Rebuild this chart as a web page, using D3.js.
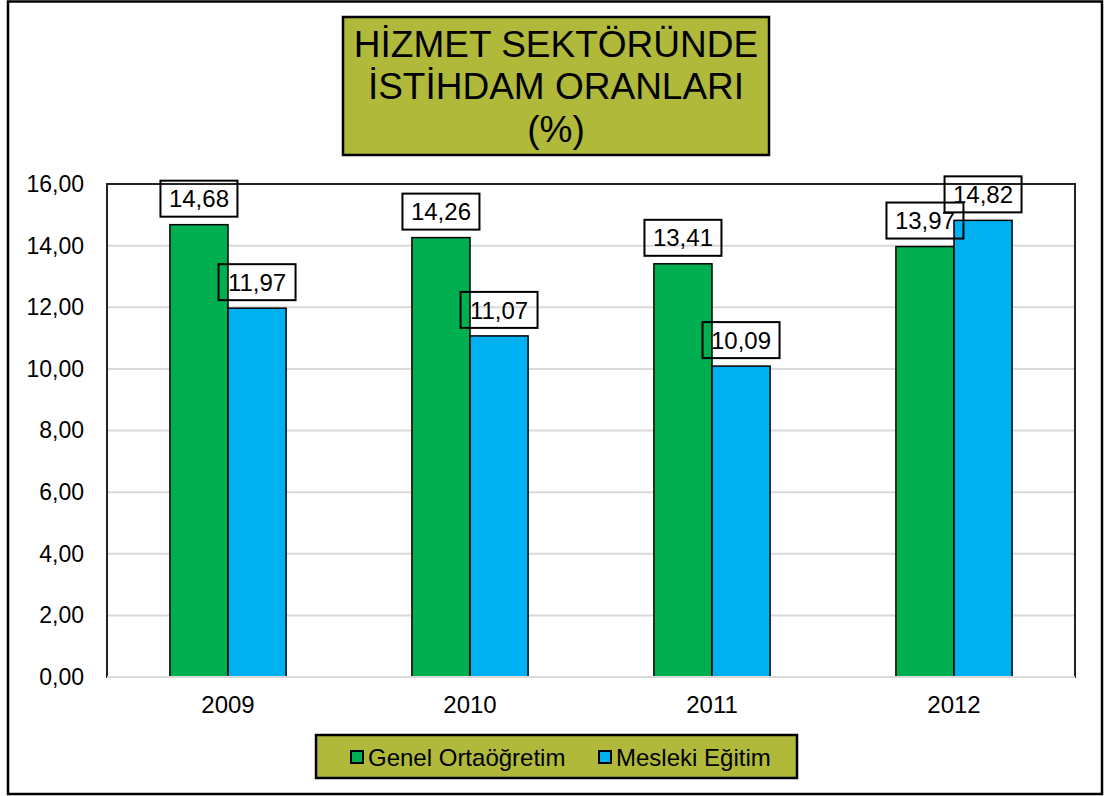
<!DOCTYPE html>
<html>
<head>
<meta charset="utf-8">
<script src="https://cdn.jsdelivr.net/npm/d3@7/dist/d3.min.js"></script>
<style>
    body { margin: 0; background: #fff; }
    text { font-family: "Liberation Sans", Arial, sans-serif; fill: #000; }
</style>
</head>
<body>
<div id="chart-container"></div>
<script>
// values
const years = ["2009", "2010", "2011", "2012"];
const seriesNames = ["Genel Ortaöğretim", "Mesleki Eğitim"];
const genelValues = [14.68, 14.26, 13.41, 13.97];
const meslekiValues = [11.97, 11.07, 10.09, 14.82];
const seriesColors = ["#00B050", "#00B0F0"];
const titleLines = ["HİZMET SEKTÖRÜNDE", "İSTİHDAM ORANLARI", "(%)"];
const yTicks = [0, 2, 4, 6, 8, 10, 12, 14, 16];

const olive = "#B0B93A";

const width = 1105;
const height = 796;
const plot = {left: 107, top: 184, right: 1075, bottom: 677};

const trLocale = d3.formatLocale({decimal: ",", thousands: ".", grouping: [3], currency: ["", " TL"]});
const fmt = trLocale.format(".2f");

const data = years.map((year, i) => ({
    year: year,
    values: [
        {name: seriesNames[0], value: genelValues[i], color: seriesColors[0]},
        {name: seriesNames[1], value: meslekiValues[i], color: seriesColors[1]},
    ],
}));

const svg = d3.select("#chart-container").append("svg")
    .attr("width", width)
    .attr("height", height);

// outer chart frame
svg.append("rect")
    .attr("x", 8).attr("y", 1.5)
    .attr("width", 1094).attr("height", 792.5)
    .attr("fill", "#fff")
    .attr("stroke", "#000")
    .attr("stroke-width", 2.5);

const x0 = d3.scaleBand()
    .domain(years)
    .range([plot.left, plot.right])
    .paddingInner(0.52)
    .paddingOuter(0.26);

const x1 = d3.scaleBand()
    .domain(seriesNames)
    .range([0, x0.bandwidth()]);

const y = d3.scaleLinear()
    .domain([0, 16])
    .range([plot.bottom, plot.top]);

// plot area border
svg.append("rect")
    .attr("x", plot.left).attr("y", plot.top)
    .attr("width", plot.right - plot.left)
    .attr("height", plot.bottom - plot.top)
    .attr("fill", "none")
    .attr("stroke", "#222")
    .attr("stroke-width", 2);

// gridlines
svg.append("g")
    .selectAll("line")
    .data(yTicks.filter(d => d > 0 && d < 16))
    .enter().append("line")
    .attr("x1", plot.left + 1).attr("x2", plot.right - 1)
    .attr("y1", d => y(d)).attr("y2", d => y(d))
    .attr("stroke", "#D9D9D9")
    .attr("stroke-width", 2);

// y axis
const yAxis = d3.axisLeft(y)
    .tickValues(yTicks)
    .tickSize(0)
    .tickPadding(23)
    .tickFormat(fmt);
const yAxisG = svg.append("g")
    .attr("transform", `translate(${plot.left},0)`)
    .call(yAxis);
yAxisG.select(".domain").remove();
yAxisG.selectAll("text")
    .style("font-size", "23px")
    .style("font-family", "Liberation Sans, Arial, sans-serif")
    .attr("fill", "#000");

// bars
const groups = svg.append("g")
    .selectAll("g")
    .data(data)
    .enter().append("g")
    .attr("transform", d => `translate(${x0(d.year)},0)`);

groups.selectAll("rect")
    .data(d => d.values)
    .enter().append("rect")
    .attr("x", d => x1(d.name))
    .attr("y", d => y(d.value))
    .attr("width", x1.bandwidth())
    .attr("height", d => y(0) - y(d.value))
    .attr("fill", d => d.color)
    .attr("stroke", "#000")
    .attr("stroke-width", 1.5);

// x axis (light grey line)
svg.append("line")
    .attr("x1", plot.left).attr("x2", plot.right)
    .attr("y1", plot.bottom).attr("y2", plot.bottom)
    .attr("stroke", "#D9D9D9")
    .attr("stroke-width", 2);

const xAxis = d3.axisBottom(x0)
    .tickSize(0)
    .tickPadding(19);
const xAxisG = svg.append("g")
    .attr("transform", `translate(0,${plot.bottom})`)
    .call(xAxis);
xAxisG.select(".domain").remove();
xAxisG.selectAll("text")
    .style("font-size", "24px")
    .style("font-family", "Liberation Sans, Arial, sans-serif")
    .attr("fill", "#000");

// data labels with boxes
const labelW = 77, labelH = 36, labelGap = 8;
const labels = groups.selectAll("g.label")
    .data(d => d.values)
    .enter().append("g")
    .attr("class", "label")
    .attr("transform", d => `translate(${x1(d.name) + x1.bandwidth() / 2},${y(d.value) - labelGap - labelH / 2})`);

labels.append("rect")
    .attr("x", -labelW / 2).attr("y", -labelH / 2)
    .attr("width", labelW).attr("height", labelH)
    .attr("fill", "none")
    .attr("stroke", "#000")
    .attr("stroke-width", 2);

labels.append("text")
    .attr("text-anchor", "middle")
    .attr("dy", "0.36em")
    .style("font-size", "24px")
    .text(d => fmt(d.value));

// title box
const title = svg.append("g");
title.append("rect")
    .attr("x", 343).attr("y", 17)
    .attr("width", 426).attr("height", 138)
    .attr("fill", olive)
    .attr("stroke", "#000")
    .attr("stroke-width", 2.5);
title.selectAll("text")
    .data(titleLines)
    .enter().append("text")
    .attr("x", 556)
    .attr("y", (d, i) => 57 + i * 42.3)
    .attr("text-anchor", "middle")
    .style("font-size", "37px")
    .text(d => d);

// legend
const legend = svg.append("g");
legend.append("rect")
    .attr("x", 316).attr("y", 735)
    .attr("width", 481).attr("height", 43)
    .attr("fill", olive)
    .attr("stroke", "#000")
    .attr("stroke-width", 2.5);

const legendX = [351, 599];
const items = legend.selectAll("g")
    .data(seriesNames)
    .enter().append("g")
    .attr("transform", (d, i) => `translate(${legendX[i]},757)`);
items.append("rect")
    .attr("x", 0).attr("y", -6)
    .attr("width", 12).attr("height", 12)
    .attr("fill", (d, i) => seriesColors[i])
    .attr("stroke", "#000")
    .attr("stroke-width", 2);
items.append("text")
    .attr("x", 17)
    .attr("dy", "0.36em")
    .style("font-size", "24px")
    .text(d => d);
</script>
</body>
</html>
